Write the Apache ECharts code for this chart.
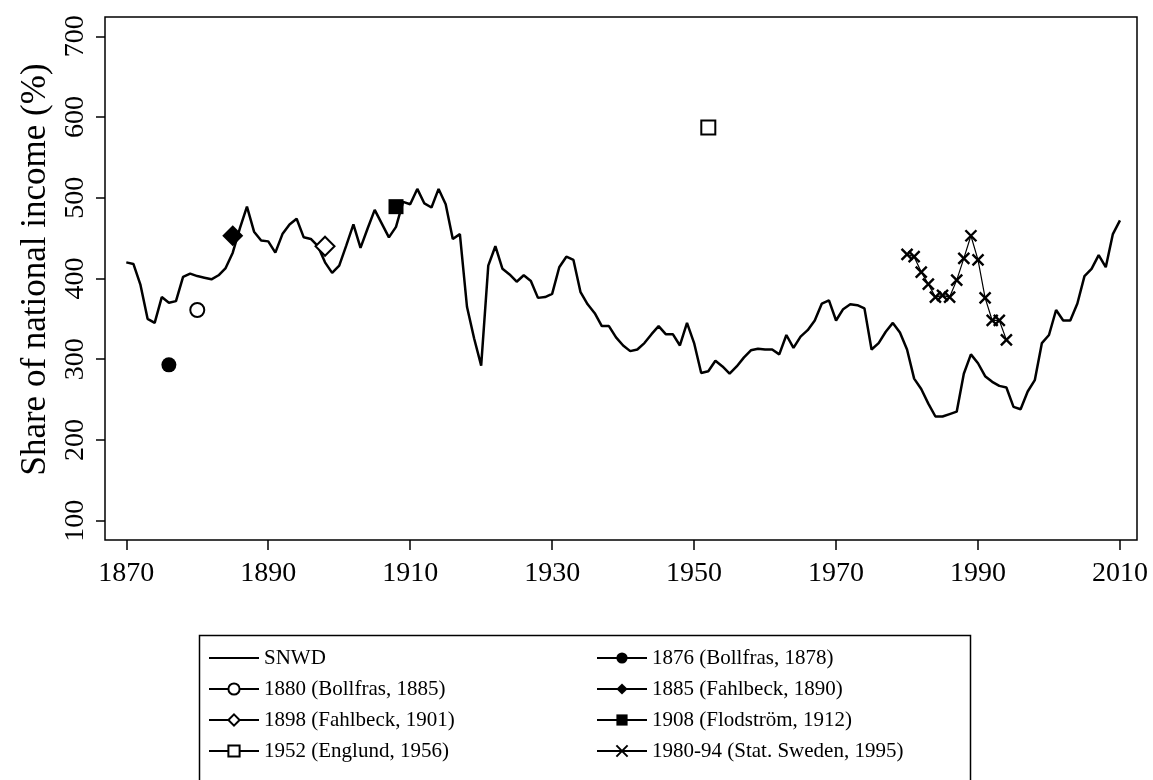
<!DOCTYPE html>
<html>
<head>
<meta charset="utf-8">
<script src="https://cdn.jsdelivr.net/npm/echarts@6/dist/echarts.min.js"></script>
<style>
html,body{margin:0;padding:0;background:#fff;}
#chart{width:1153px;height:780px;}
</style>
</head>
<body>
<div id="chart"></div>
<script>
// ---- data ----
const snwdStartYear = 1870;
const snwdValues = [
  420,418,392,350,345,377,370,372,402,406,
  403,401,399,404,413,432,462,489,458,447,
  446,432,455,467,474,451,449,440,420,407,
  416,441,467,438,462,485,468,451,464,495,
  492,511,493,488,511,492,449,455,365,326,
  292,416,440,412,405,396,404,397,376,377,
  381,414,427,423,383,368,357,341,341,327,
  317,310,312,320,331,341,331,331,317,345,
  320,283,285,298,291,282,291,302,311,313,
  312,312,306,330,314,328,336,348,369,373,
  348,362,368,367,363,312,320,334,345,333,
  312,276,263,245,229,229,232,235,282,306,
  295,279,272,267,265,241,238,260,274,320,
  330,361,348,348,369,403,412,429,414,455,
  472
];
const statSwedenYears = [1980,1981,1982,1983,1984,1985,1986,1987,1988,1989,1990,1991,1992,1993,1994];
const statSwedenValues = [430,427,408,393,377,379,377,398,425,453,423,376,348,348,324];

const pointNames  = ['1876 (Bollfras, 1878)','1880 (Bollfras, 1885)','1885 (Fahlbeck, 1890)','1898 (Fahlbeck, 1901)','1908 (Flodström, 1912)','1952 (Englund, 1956)'];
const pointYears  = [1876, 1880, 1885, 1898, 1908, 1952];
const pointValues = [293, 361, 453, 440, 489, 587];

const xTickLabels = [1870, 1890, 1910, 1930, 1950, 1970, 1990, 2010];
const yTickLabels = [100, 200, 300, 400, 500, 600, 700];

// ---- build ----
const FONT = '"Liberation Serif", "Times New Roman", serif';
const snwdData = snwdValues.map((v, i) => [snwdStartYear + i, v]);
const statData = statSwedenYears.map((y, i) => [y, statSwedenValues[i]]);

const markerStyles = {
  '1876 (Bollfras, 1878)':  {symbol:'circle',  size:15, fill:'#000'},
  '1880 (Bollfras, 1885)':  {symbol:'circle',  size:14, fill:'#fff'},
  '1885 (Fahlbeck, 1890)':  {symbol:'diamond', size:21, fill:'#000'},
  '1898 (Fahlbeck, 1901)':  {symbol:'diamond', size:19, fill:'#fff'},
  '1908 (Flodström, 1912)': {symbol:'rect',    size:15, fill:'#000'},
  '1952 (Englund, 1956)':   {symbol:'rect',    size:14, fill:'#fff'}
};

const series = [{
  name: 'SNWD', type: 'line', data: snwdData, symbol: 'none',
  lineStyle: {color:'#000', width: 2.5}, itemStyle:{color:'#000'}, z: 2, animation:false
}];
pointNames.forEach((n, i) => {
  const m = markerStyles[n];
  series.push({
    name: n, type: 'line', data: [[pointYears[i], pointValues[i]]],
    symbol: m.symbol, symbolSize: m.size, showSymbol: true,
    lineStyle: {color:'#000', width: 1.5},
    itemStyle: {color: m.fill, borderColor:'#000', borderWidth: m.fill === '#fff' ? 2 : 0, opacity:1},
    z: 5, animation:false
  });
});
series.push({
  name: '1980-94 (Stat. Sweden, 1995)', type: 'line', data: statData,
  symbol: 'path://M0,0L10,10M10,0L0,10', symbolSize: 11, showSymbol: true,
  lineStyle: {color:'#000', width: 1.2},
  itemStyle: {color:'#000', borderColor:'#000', borderWidth: 2.4},
  z: 4, animation:false
});

const legendText = {fontSize: 21, color:'#000', fontFamily: FONT, lineHeight: 22};
const chart = echarts.init(document.getElementById('chart'));
chart.setOption({
  backgroundColor: '#fff',
  animation: false,
  textStyle: {fontFamily: FONT, color:'#000'},
  grid: {left: 105, right: 16, top: 17, bottom: 240, show: true, borderColor:'#000', borderWidth: 1.5, backgroundColor:'#fff'},
  xAxis: {
    type: 'value', min: 1867, max: 2012.4,
    splitLine: {show:false},
    axisLine: {show:false},
    axisTick: {show:true, inside:false, length: 10, lineStyle:{color:'#000', width:1.5}, customValues: xTickLabels},
    axisLabel: {show:true, margin: 20, fontSize: 28, color:'#000', fontFamily: FONT, customValues: xTickLabels, formatter: v => String(v)}
  },
  yAxis: {
    type: 'value', min: 76, max: 724,
    name: 'Share of national income (%)', nameLocation: 'middle', nameRotate: 90, nameGap: 52,
    nameTextStyle: {fontSize: 35, color:'#000', fontFamily: FONT, padding: [0, 0, 0, 18]},
    splitLine: {show:false},
    axisLine: {show:false},
    axisTick: {show:true, inside:false, length: 9, lineStyle:{color:'#000', width:1.5}, customValues: yTickLabels},
    axisLabel: {show:true, rotate: 90, margin: 15, fontSize: 28, color:'#000', fontFamily: FONT, customValues: yTickLabels, formatter: v => String(v)}
  },
  legend: [{
    orient: 'vertical', left: 203, top: 642, itemWidth: 50, itemHeight: 14, itemGap: 9,
    textStyle: legendText,
    data: [{name:'SNWD', itemStyle:{opacity:0}},'1880 (Bollfras, 1885)','1898 (Fahlbeck, 1901)','1952 (Englund, 1956)'],
    selectedMode: false
  },{
    orient: 'vertical', left: 591, top: 642, itemWidth: 50, itemHeight: 14, itemGap: 9,
    textStyle: legendText,
    data: ['1876 (Bollfras, 1878)','1885 (Fahlbeck, 1890)','1908 (Flodström, 1912)','1980-94 (Stat. Sweden, 1995)'],
    selectedMode: false
  }],
  graphic: [{
    type: 'rect', left: 197, top: 633, silent: true,
    shape: {width: 771, height: 160},
    style: {fill: 'none', stroke: '#000', lineWidth: 1.5}
  }],
  series: series
});
</script>
</body>
</html>
